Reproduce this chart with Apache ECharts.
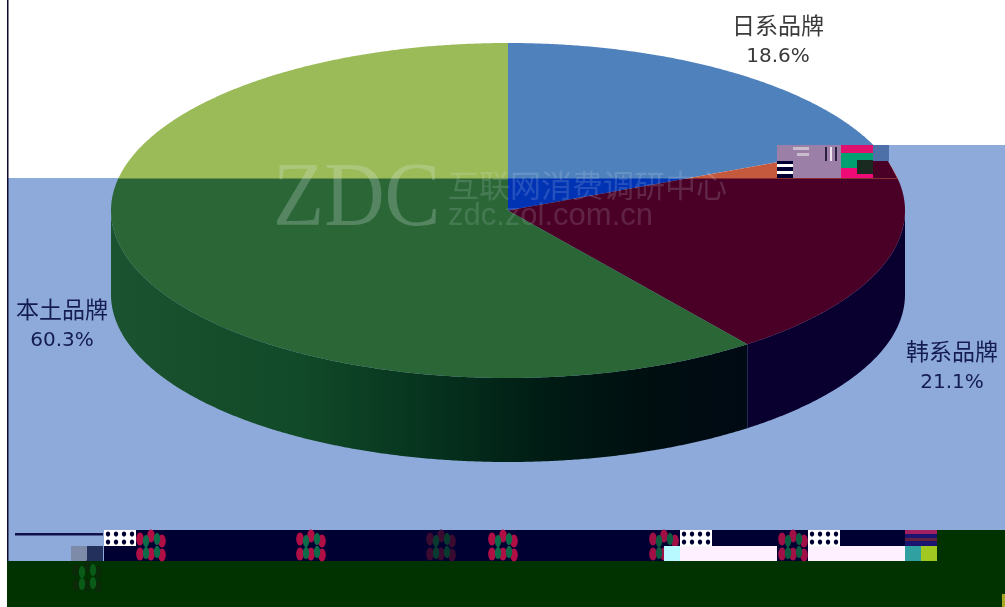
<!DOCTYPE html>
<html>
<head>
<meta charset="utf-8">
<style>
html, body { margin: 0; padding: 0; background: #fff; }
#chart { width: 1005px; height: 607px; }
</style>
<script src="https://cdn.jsdelivr.net/npm/echarts@6/dist/echarts.min.js"></script>
</head>
<body>
<div id="chart"></div>
<script>
// 品牌占比
var brandNames = ['日系品牌', '韩系品牌', '本土品牌'];
var brandValues = [18.6, 21.1, 60.3];

// 饼的几何和颜色
var pie = {cx: 508, cy: 210.5, rx: 397, ry: 167.5, depth: 84};
var bandY = 178; // 图片在这条线以下颜色错位
var topColors = ['#4f81bd', '#c4593d', '#9bbb59'];
var lowColors = ['#0033b4', '#4a0026', '#2a6636'];
var labelPos = [[778, 25], [952, 351], [62, 309]];
var labelInk = ['#3a3a3a', '#141c50', '#141c50'];

var periwinkle = '#8eaadb';
var navy = '#000033';
var darkGreen = '#003300';

function splitFill(up, low) {
    return {
        type: 'linear', global: true, x: 0, y: bandY, x2: 0, y2: bandY + 1,
        colorStops: [{offset: 0, color: up}, {offset: 1, color: low}]
    };
}

function wallFill(index) {
    if (index === 1) {
        return '#0a0030';
    }
    return {
        type: 'linear', global: true, x: 111, y: 0, x2: 747, y2: 0,
        colorStops: [
            {offset: 0, color: '#1b5230'},
            {offset: 0.3, color: '#114a28'},
            {offset: 0.5, color: '#06331e'},
            {offset: 0.68, color: '#001c14'},
            {offset: 0.85, color: '#000e10'},
            {offset: 1, color: '#000a14'}
        ]
    };
}

function edgePoint(pct, dy) {
    var a = pct / 100 * Math.PI * 2;
    return [pie.cx + pie.rx * Math.sin(a), pie.cy - pie.ry * Math.cos(a) + (dy || 0)];
}

function renderSlice(params, api) {
    var i = params.dataIndex;
    var from = 0;
    for (var k = 0; k < i; k++) {
        from += brandValues[k];
    }
    var to = from + api.value(0);
    var top = [[pie.cx, pie.cy]];
    for (var p = from; p < to; p += 0.1) {
        top.push(edgePoint(p));
    }
    top.push(edgePoint(to));

    // 侧面只画朝前的那段 (25% ~ 75%)
    var wall = [];
    var a = Math.max(from, 25), b = Math.min(to, 75);
    if (a < b) {
        for (var q = a; q < b; q += 0.1) {
            wall.push(edgePoint(q));
        }
        wall.push(edgePoint(b));
        for (var r = b; r > a; r -= 0.1) {
            wall.push(edgePoint(r, pie.depth));
        }
        wall.push(edgePoint(a, pie.depth));
    }

    var children = [];
    if (wall.length) {
        children.push({type: 'polygon', shape: {points: wall}, style: {fill: wallFill(i)}});
    }
    children.push({type: 'polygon', shape: {points: top}, style: {fill: splitFill(topColors[i], lowColors[i])}});
    children.push({
        type: 'text', x: labelPos[i][0], y: labelPos[i][1],
        style: {
            text: brandNames[i], fill: labelInk[i], align: 'center', verticalAlign: 'middle',
            font: '23px "Noto Sans CJK SC"'
        }
    });
    children.push({
        type: 'text', x: labelPos[i][0], y: labelPos[i][1] + 32,
        style: {
            text: api.value(0).toFixed(1) + '%', fill: labelInk[i], align: 'center', verticalAlign: 'middle',
            font: '20px "DejaVu Sans"'
        }
    });
    return {type: 'group', children: children};
}

function box(x, y, w, h, color, z) {
    return {type: 'rect', z: z, silent: true, shape: {x: x, y: y, width: w, height: h}, style: {fill: color}};
}

function dot(x, y, rx, ry, color) {
    return {type: 'ellipse', z: 60, silent: true, shape: {cx: x, cy: y, rx: rx, ry: ry}, style: {fill: color}};
}

// 图片损坏留下的花块
function blotch(list, x, y, red, green) {
    var reds = [[5, 9], [16, 6], [27, 11], [5, 24], [16, 24], [27, 25]];
    var greens = [[11, 11], [22, 9], [11, 23], [22, 22]];
    reds.forEach(function (d) {
        list.push(dot(x + d[0], y + d[1], 3.8, 6.5, red));
    });
    greens.forEach(function (d) {
        list.push(dot(x + d[0], y + d[1], 3.2, 6, green));
    });
}

function scallop(list, x, y) {
    list.push(box(x, y, 32, 16, '#ffffff', 60));
    for (var col = 0; col < 4; col++) {
        for (var row = 0; row < 2; row++) {
            list.push(dot(x + 4 + col * 8, y + 4 + row * 8, 2.2, 2.6, navy));
        }
    }
}

var backdrop = [
    box(0, 0, 1005, 607, '#ffffff', -10),
    box(889, 145, 116, 400, periwinkle, -9),
    box(873, 161, 16, 400, periwinkle, -9),
    box(8, 178, 997, 383, periwinkle, -9),
    box(7, 0, 1.5, 562, '#0a0a30', -8)
];

var overlay = [
    // 水印
    {type: 'text', z: 50, silent: true, x: 273, y: 246, scaleX: 0.93, style: {text: 'ZDC', fill: 'rgba(225,240,235,0.24)', font: '90px "Liberation Serif"', verticalAlign: 'bottom'}},
    {type: 'text', z: 50, silent: true, x: 448, y: 185, style: {text: '互联网消费调研中心', fill: 'rgba(225,235,240,0.16)', font: '31px "Noto Sans CJK SC"', verticalAlign: 'middle'}},
    {type: 'text', z: 50, silent: true, x: 448, y: 216, style: {text: 'zdc.zol.com.cn', fill: 'rgba(225,235,240,0.15)', font: '31px "Liberation Sans"', verticalAlign: 'middle'}},

    // 饼右上角的错位块
    box(777, 145, 96, 33, '#9b7fa6', 55),
    box(841, 145, 32, 8, '#e0106e', 56),
    box(841, 153, 32, 15, '#00a070', 56),
    box(841, 168, 32, 10, '#f00a78', 56),
    box(857, 160, 16, 14, '#1a2a20', 57),
    box(777, 161, 16, 17, '#000033', 56),
    box(777, 164, 16, 3, '#ffffff', 57),
    box(777, 171, 16, 3, '#ffffff', 57),
    box(793, 147, 16, 3, '#c9bccb', 56),
    box(797, 153, 12, 3, '#c9bccb', 56),
    box(825, 147, 2, 14, '#2a2040', 56),
    box(830, 147, 2, 14, '#efe3ef', 56),
    box(835, 147, 2, 14, '#2a2040', 56),
    box(873, 145, 16, 16, '#4e70a8', 55),
    {type: 'polygon', z: 54, silent: true, shape: {points: [[873, 161], [888, 161], [897, 178], [873, 178]]}, style: {fill: lowColors[1]}},

    // 底部色带
    box(7, 561, 998, 46, darkGreen, 55),
    box(104, 530, 545, 31, navy, 55),
    box(648, 530, 32, 31, navy, 55),
    box(680, 530, 97, 16, navy, 55),
    box(777, 530, 31, 31, navy, 55),
    box(808, 530, 97, 16, navy, 55),
    box(937, 530, 68, 31, darkGreen, 55),
    box(664, 546, 113, 15, '#fff0ff', 61),
    box(664, 546, 16, 15, '#b8f8ff', 62),
    box(808, 546, 97, 15, '#fff0ff', 56),
    box(15, 533, 88, 2.5, '#10104c', 56),
    box(71, 546, 32, 15, '#7d8aa8', 56),
    box(87, 546, 16, 15, '#24305c', 57),
    box(905, 530, 32, 16, '#1a1470', 56),
    box(905, 530, 32, 4, '#a02060', 57),
    box(905, 538, 32, 3, '#602040', 57),
    box(905, 546, 32, 15, '#30a0a0', 56),
    box(921, 546, 16, 15, '#a0c820', 57),
    box(1002, 594, 3, 13, '#a8a820', 57)
];
scallop(overlay, 104, 530);
scallop(overlay, 680, 530);
scallop(overlay, 808, 530);
blotch(overlay, 135, 530, '#b00f45', '#0c6a48');
blotch(overlay, 295, 530, '#b00f45', '#0c6a48');
blotch(overlay, 425, 530, '#3a0a30', '#083a30');
blotch(overlay, 487, 530, '#b00f45', '#0c6a48');
blotch(overlay, 648, 530, '#a00f45', '#0c5a40');
blotch(overlay, 777, 530, '#a00f45', '#0c5a40');
blotch(overlay, 71, 561, '#0a2a08', '#0a5a18');

var chart = echarts.init(document.getElementById('chart'));
chart.setOption({
    animation: false,
    graphic: {elements: backdrop.concat(overlay)},
    series: [{
        type: 'custom',
        coordinateSystem: 'none',
        renderItem: renderSlice,
        z: 5,
        silent: true,
        data: brandValues.map(function (v) { return [v]; })
    }]
});
</script>
</body>
</html>
